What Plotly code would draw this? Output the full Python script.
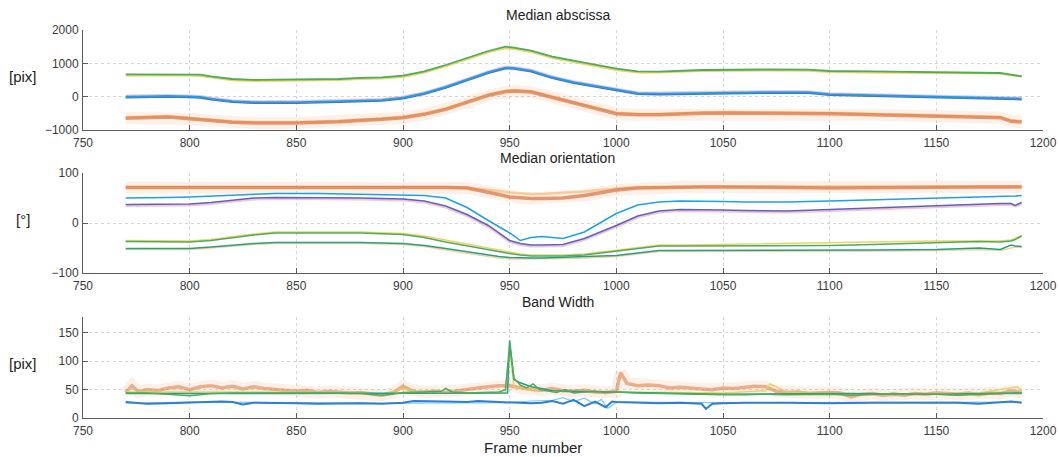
import plotly.graph_objects as go

# ---------------- data: panel 1 (Median abscissa) ----------------
TOP_X = [770, 780, 790, 800, 805, 810, 820, 830, 850, 870, 880, 890, 900, 910, 920, 930,
         940, 948, 952, 960, 970, 980, 990, 1000, 1010, 1020, 1040, 1050, 1070, 1090, 1100,
         1120, 1150, 1170, 1180, 1185, 1190]
top_green = [670, 670, 670, 665, 660, 610, 530, 505, 510, 530, 565, 580, 630, 760, 950, 1170,
             1370, 1500, 1470, 1380, 1200, 1080, 950, 840, 760, 750, 800, 810, 815, 810, 770,
             760, 740, 730, 710, 660, 610]
top_yellow = [630, 635, 630, 630, 620, 570, 490, 470, 475, 495, 530, 545, 590, 720, 910, 1120,
              1330, 1450, 1430, 1340, 1160, 1040, 910, 800, 720, 720, 770, 780, 780, 775, 740,
              725, 710, 700, 690, 640, 600]
top_blue = [0, 10, 20, 5, -10, -60, -140, -170, -165, -135, -115, -100, -30, 100, 290, 520,
            730, 870, 860, 780, 580, 430, 320, 200, 100, 90, 115, 125, 135, 130, 70,
            40, -10, -30, -40, -50, -60]
top_purple = [-30, -20, -10, -25, -40, -90, -170, -200, -195, -165, -145, -130, -60, 70, 260, 490,
              700, 840, 830, 750, 550, 400, 290, 170, 70, 60, 85, 95, 105, 100, 40,
              10, -40, -60, -70, -80, -90]
top_pink = [40, 50, 60, 45, 30, -20, -100, -130, -125, -95, -75, -60, 10, 140, 330, 560,
            770, 910, 900, 820, 620, 470, 360, 240, 140, 130, 155, 165, 175, 170, 110,
            80, 30, 10, 0, -10, -20]
top_orange = [-650, -640, -610, -660, -690, -720, -770, -790, -790, -750, -720, -680, -630, -530, -380, -180,
              40, 150, 170, 140, -20, -200, -360, -510, -540, -540, -500, -490, -500, -495, -510,
              -540, -590, -610, -630, -740, -760]
top_orange_light = [-620, -610, -580, -630, -660, -690, -740, -760, -760, -720, -690, -650, -600, -500, -350, -150,
                    70, 180, 200, 170, 10, -170, -330, -480, -510, -510, -470, -460, -470, -465, -480,
                    -510, -560, -580, -600, -700, -730]

# ---------------- data: panel 2 (Median orientation) ----------------
MID_X = [770, 780, 790, 800, 810, 820, 830, 840, 860, 880, 900, 910, 920, 930, 940, 945, 950,
         955, 960, 965, 975, 985, 1000, 1010, 1020, 1030, 1040, 1050, 1060, 1080, 1100, 1120,
         1150, 1170, 1180, 1185, 1187, 1190]
mid_cyan = [50, 50, 51, 52, 54, 56, 58, 59, 59, 58, 57, 55, 50, 31, 5, -8, -20,
            -35, -29, -27, -31, -18, 19, 36, 42, 44, 44, 43, 42, 42, 44, 46,
            50, 51, 52, 53, 54, 55]
mid_purple = [37, 37, 37, 38, 41, 45, 50, 51, 51, 50, 48, 44, 34, 17, -5, -20, -35,
              -41, -44, -44, -43, -31, -5, 14, 24, 27, 27, 26, 25, 24, 27, 30,
              36, 38, 39, 39, 35, 41]
mid_pink = [34, 34, 34, 35, 38, 42, 47, 48, 48, 47, 45, 41, 31, 14, -8, -23, -38,
            -44, -47, -47, -46, -34, -8, 11, 21, 24, 24, 23, 22, 21, 24, 27,
            33, 35, 36, 36, 33, 38]
mid_orange = [71, 71, 71, 71, 72, 72, 72, 72, 72, 72, 72, 72, 71, 70, 62, 57, 52,
              50, 49, 49, 50, 55, 66, 70, 71, 72, 72, 72, 72, 71, 70, 71,
              71, 72, 72, 72, 72, 72]
mid_orange_light = [72, 72, 72, 72, 73, 73, 73, 73, 73, 73, 73, 73, 72, 71, 67, 64, 61,
                    59, 58, 58, 60, 63, 69, 72, 72, 73, 73, 73, 73, 72, 72, 72,
                    72, 73, 73, 73, 73, 74]
mid_green = [-37, -37, -38, -38, -35, -29, -24, -20, -20, -20, -23, -29, -38, -46, -53, -57, -61,
             -64, -66, -66, -66, -64, -56, -50, -46, -46, -46, -46, -46, -45, -45, -43,
             -39, -37, -38, -36, -33, -26]
mid_yellow = [-35, -35, -36, -36, -33, -27, -22, -18, -18, -18, -21, -26, -34, -42, -50, -55, -59,
              -62, -64, -64, -64, -62, -54, -48, -44, -44, -44, -43, -42, -41, -40, -38,
              -36, -35, -36, -34, -31, -25]
mid_teal = [-51, -51, -51, -51, -48, -44, -41, -39, -39, -39, -41, -45, -51, -58, -64, -67, -69,
            -70, -70, -70, -69, -68, -65, -60, -55, -55, -55, -55, -55, -55, -55, -54,
            -53, -50, -53, -44, -46, -47]
mid_orange_low = [-53, -53, -53, -53, -50, -46, -43, -41, -41, -41, -43, -47, -54, -61, -67, -70, -72,
                  -72, -72, -72, -71, -70, -67, -62, -57, -57, -57, -57, -57, -57, -57, -56,
                  -55, -53, -55, -49, -48, -49]

# ---------------- data: panel 3 (Band Width) ----------------
bw_orange_x = [770, 773, 776, 780, 785, 790, 795, 800, 805, 810, 815, 820, 825, 830, 835, 840,
               845, 850, 855, 860, 865, 870, 875, 880, 885, 890, 895, 900, 903, 906, 910, 915,
               920, 925, 930, 935, 940, 945, 950, 955, 960, 965, 970, 975, 980, 985, 990, 995,
               1000, 1002, 1005, 1010, 1015, 1020, 1025, 1030, 1035, 1040, 1045, 1050, 1055, 1060,
               1065, 1070, 1075, 1080, 1085, 1090, 1095, 1100, 1105, 1110, 1115, 1120, 1125, 1130,
               1135, 1140, 1145, 1150, 1155, 1160, 1165, 1170, 1175, 1180, 1185, 1190]
bw_orange = [45, 57, 46, 50, 48, 53, 55, 50, 55, 57, 53, 56, 51, 55, 52, 50,
             48, 47, 49, 45, 47, 45, 44, 45, 42, 40, 44, 56, 50, 46, 46, 47,
             45, 48, 50, 53, 55, 57, 57, 53, 50, 49, 52, 48, 47, 49, 46, 45,
             47, 80, 61, 57, 58, 57, 53, 54, 52, 51, 50, 53, 52, 54,
             56, 55, 47, 45, 46, 43, 44, 45, 44, 37, 42, 43, 40, 42,
             40, 43, 42, 44, 43, 42, 44, 41, 44, 43, 48, 45]
bw_green_x = [770, 780, 790, 795, 800, 805, 810, 820, 830, 840, 850, 860, 870, 880, 885, 890,
              895, 900, 910, 918, 920, 923, 930, 940, 945, 948, 950, 952, 955, 958, 961, 964,
              968, 972, 976, 980, 985, 990, 995, 1000, 1010, 1020, 1030, 1040, 1050, 1060,
              1070, 1080, 1090, 1100, 1110, 1120, 1130, 1140, 1150, 1160, 1170, 1180, 1190]
bw_green = [44, 44, 42, 40, 39, 41, 43, 44, 44, 44, 45, 44, 44, 43, 42, 40,
            42, 45, 46, 47, 52, 46, 44, 45, 46, 50, 130, 70, 58, 53, 60, 50,
            48, 45, 50, 44, 46, 47, 45, 46, 44, 43, 42, 41, 41, 41,
            42, 41, 42, 42, 40, 42, 43, 42, 42, 40, 42, 43, 43]
bw_teal_x = [770, 948, 949, 950, 952, 955, 960, 965, 970, 980, 990, 1000, 1020, 1050, 1100, 1150, 1190]
bw_teal = [43, 43, 44, 137, 68, 62, 55, 52, 48, 47, 46, 45, 44, 42, 43, 42, 44]
bw_yellow_x = [770, 790, 800, 820, 850, 880, 890, 900, 905, 910, 930, 948, 950, 952, 960, 980,
               1000, 1020, 1050, 1070, 1072, 1080, 1100, 1130, 1150, 1170, 1188, 1190]
bw_yellow = [46, 46, 47, 46, 45, 44, 42, 52, 47, 45, 44, 45, 120, 55, 50, 47,
             46, 45, 44, 48, 60, 46, 44, 42, 43, 44, 55, 47]
bw_blue_x = [770, 775, 780, 790, 800, 810, 815, 820, 825, 830, 840, 850, 860, 870, 880, 890,
             900, 905, 910, 920, 930, 935, 940, 950, 960, 965, 970, 975, 980, 985, 990, 995,
             998, 1000, 1010, 1020, 1030, 1040, 1042, 1045, 1050, 1060, 1080, 1100, 1120, 1140,
             1150, 1160, 1170, 1180, 1185, 1190]
bw_blue = [28, 26, 25, 26, 27, 28, 29, 28, 24, 27, 27, 26, 25, 26, 26, 25,
           27, 30, 30, 29, 28, 30, 29, 28, 26, 27, 30, 25, 32, 21, 29, 19,
           29, 28, 27, 26, 27, 25, 16, 25, 26, 27, 27, 26, 27, 27,
           26, 27, 25, 28, 29, 27]
bw_cyan_x = [770, 800, 850, 900, 950, 960, 970, 975, 980, 985, 990, 993, 996, 1000, 1050, 1100, 1150, 1190]
bw_cyan = [26, 28, 27, 26, 27, 30, 31, 36, 29, 35, 25, 33, 17, 28, 27, 27, 28, 28]

X_TICKS = [750, 800, 850, 900, 950, 1000, 1050, 1100, 1150, 1200]
Y1_TICKS = [-1000, 0, 1000, 2000]
Y2_TICKS = [-100, 0, 100]
Y3_TICKS = [0, 50, 100, 150]
TITLES = ["Median abscissa", "Median orientation", "Band Width"]
YLABELS = ["[pix]", "[°]", "[pix]"]

# ---------------- colours ----------------
C_ORANGE = "rgba(222,120,70,0.75)"
C_ORANGE_HALO = "rgba(240,160,120,0.16)"
C_YELLOW = "rgba(232,205,80,0.85)"
C_GREEN = "#4eaa5c"
C_TEAL = "#2a9e84"
C_CYAN = "#1ea0e6"
C_BLUE = "#2f7fd0"
C_PURPLE = "#5a62c4"
C_PINK = "rgba(240,150,160,0.55)"

fig = go.Figure()


def line(x, y, ax, color, width, opacity=1.0):
    xa = "x" if ax == 1 else "x%d" % ax
    ya = "y" if ax == 1 else "y%d" % ax
    fig.add_trace(go.Scatter(x=x, y=y, xaxis=xa, yaxis=ya, mode="lines",
                             line=dict(color=color, width=width), opacity=opacity,
                             hoverinfo="skip", showlegend=False))


# panel 1
line(TOP_X, top_orange, 1, C_ORANGE_HALO, 12)
line(TOP_X, top_orange_light, 1, "rgba(240,190,120,0.6)", 2.5)
line(TOP_X, top_orange, 1, C_ORANGE, 3.5)
line(TOP_X, top_pink, 1, C_PINK, 1.5)
line(TOP_X, top_purple, 1, C_PURPLE, 1.5)
line(TOP_X, top_blue, 1, C_CYAN, 2)
line(TOP_X, top_yellow, 1, C_YELLOW, 1.8)
line(TOP_X, top_green, 1, C_GREEN, 1.8)

# panel 2
line(MID_X, mid_orange, 2, C_ORANGE_HALO, 12)
line(MID_X, mid_orange_light, 2, "rgba(240,190,120,0.7)", 2.5)
line(MID_X, mid_orange, 2, C_ORANGE, 3.5)
line(MID_X, mid_pink, 2, C_PINK, 2)
line(MID_X, mid_purple, 2, C_PURPLE, 1.5)
line(MID_X, mid_cyan, 2, C_CYAN, 1.5)
line(MID_X, mid_orange_low, 2, "rgba(240,190,120,0.7)", 1.5)
line(MID_X, mid_teal, 2, C_TEAL, 1.5)
line(MID_X, mid_yellow, 2, C_YELLOW, 1.5)
line(MID_X, mid_green, 2, C_GREEN, 1.5)

# panel 3
line(bw_orange_x, bw_orange, 3, C_ORANGE_HALO, 12)
line(bw_orange_x, bw_orange, 3, "rgba(222,130,80,0.6)", 3.5)
line(bw_yellow_x, bw_yellow, 3, C_YELLOW, 1.5)
line(bw_teal_x, bw_teal, 3, C_TEAL, 1.5)
line(bw_green_x, bw_green, 3, C_GREEN, 1.5)
line(bw_cyan_x, bw_cyan, 3, "rgba(90,190,240,0.8)", 1.2)
line(bw_blue_x, bw_blue, 3, C_BLUE, 2)

# ---------------- layout ----------------
W, H = 1059, 457
X0, X1 = 83, 1043
PANELS = [(30, 130), (173, 273), (317, 418)]
YRANGES = [[-1000, 2000], [-100, 100], [0, 178]]
YTICKS = [Y1_TICKS, Y2_TICKS, Y3_TICKS]

FAM = "Liberation Sans, Arial, sans-serif"
font = dict(family=FAM, size=12, color="#3a3a3a")
layout = dict(width=W, height=H, margin=dict(l=0, r=0, t=0, b=0, autoexpand=False),
              template="none",
              paper_bgcolor="white", plot_bgcolor="white", font=font, showlegend=False)
annotations = []
for i, (top, bot) in enumerate(PANELS):
    n = "" if i == 0 else str(i + 1)
    ydom = [(H - bot) / H, (H - top) / H]
    common = dict(showline=True, linecolor="#5a5a5a", linewidth=1, automargin=False,
                  ticks="inside", ticklen=5, tickcolor="#5a5a5a", tickwidth=1,
                  showgrid=True, gridcolor="#d6d6d6", griddash="dot", gridwidth=1,
                  zeroline=False, tickfont=font, mirror=False)
    layout["xaxis" + n] = dict(domain=[X0 / W, X1 / W], range=[750, 1200], tickvals=X_TICKS,
                               anchor="y" + n, ticklabelstandoff=2, **common)
    layout["yaxis" + n] = dict(domain=ydom, range=YRANGES[i], tickvals=YTICKS[i],
                               anchor="x" + n, ticklabelstandoff=1, **common)
    annotations.append(dict(text=TITLES[i], x=(X0 + X1) / 2 / W - 0.005, y=(H - top + 5) / H,
                            xref="paper", yref="paper", showarrow=False, xanchor="center",
                            yanchor="bottom", font=dict(family=FAM, size=14, color="#222")))
    annotations.append(dict(text=YLABELS[i], x=23 / W, y=(H - (top + bot) / 2 + 4) / H,
                            xref="paper", yref="paper", showarrow=False, xanchor="center",
                            yanchor="middle", font=dict(family=FAM, size=15, color="#222")))
annotations.append(dict(text="Frame number", x=533 / W, y=(H - 447) / H, xref="paper", yref="paper",
                        showarrow=False, xanchor="center", yanchor="middle",
                        font=dict(family=FAM, size=15, color="#222")))
layout["annotations"] = annotations
fig.update_layout(**layout)

fig.write_html("out.html", config={"displayModeBar": False},
               post_script="document.body.style.margin='0';document.body.style.overflow='hidden';")
